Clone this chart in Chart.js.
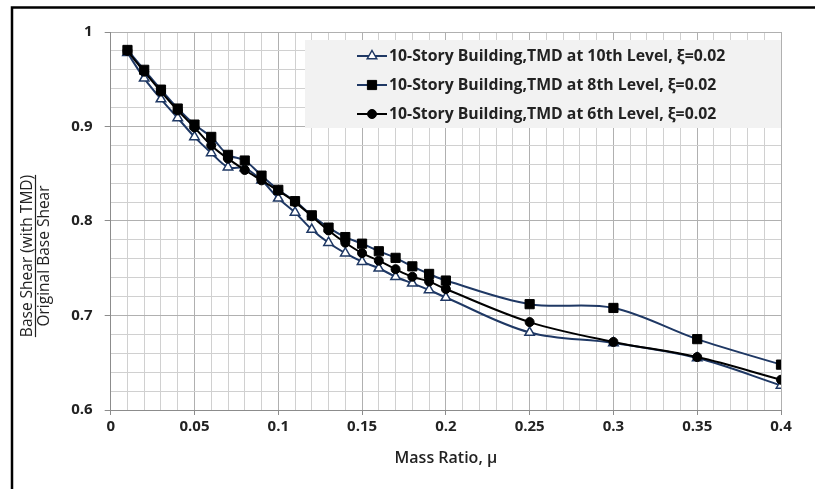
<!DOCTYPE html>
<html>
<head>
<meta charset="utf-8">
<script src="https://cdn.jsdelivr.net/npm/chart.js@4.4.1/dist/chart.umd.min.js"></script>
<style>
  html, body { margin: 0; padding: 0; background: #ffffff; }
  #wrap { width: 815px; height: 489px; }
</style>
</head>
<body>
<div id="wrap"><canvas id="c" width="815" height="489"></canvas></div>
<script>
// ---- data ----
const massRatio = [0.01, 0.02, 0.03, 0.04, 0.05, 0.06, 0.07, 0.08, 0.09, 0.10,
                   0.11, 0.12, 0.13, 0.14, 0.15, 0.16, 0.17, 0.18, 0.19, 0.20,
                   0.25, 0.30, 0.35, 0.40];
const tmd10th = [0.978, 0.951, 0.929, 0.909, 0.889, 0.872, 0.857, 0.856, 0.843, 0.824,
                 0.809, 0.791, 0.777, 0.766, 0.757, 0.750, 0.741, 0.734, 0.727, 0.719,
                 0.682, 0.671, 0.655, 0.626];
const tmd8th  = [0.981, 0.960, 0.939, 0.919, 0.902, 0.889, 0.870, 0.864, 0.848, 0.833,
                 0.821, 0.806, 0.793, 0.783, 0.776, 0.768, 0.761, 0.752, 0.744, 0.737,
                 0.712, 0.708, 0.675, 0.648];
const tmd6th  = [0.980, 0.958, 0.937, 0.917, 0.899, 0.880, 0.866, 0.854, 0.843, 0.832,
                 0.820, 0.805, 0.790, 0.777, 0.766, 0.758, 0.749, 0.741, 0.736, 0.728,
                 0.693, 0.672, 0.656, 0.632];
const seriesNames = [
  "10-Story Building,TMD at 10th Level, \u03BE=0.02",
  "10-Story Building,TMD at 8th Level, \u03BE=0.02",
  "10-Story Building,TMD at 6th Level, \u03BE=0.02"
];
const xTitle = "Mass Ratio, \u03BC";
const yTitleTop = "Base Shear (with TMD)";
const yTitleBottom = "Original Base Shear";
const xRange = [0, 0.4];
const yRange = [0.6, 1.0];

const NAVY = "#1f3864";
const FONT = "'Open Sans', 'Liberation Sans', sans-serif";
const TXT = "#222222";

function pts(ys) { return massRatio.map((x, i) => ({ x: x, y: ys[i] })); }

const styles = [
  { color: NAVY, style: "triangle", bg: "#ffffff", border: NAVY, r: 5.5, bw: 1.5 },
  { color: NAVY, style: "rect", bg: "#000000", border: "#000000", r: 6.5, bw: 1 },
  { color: "#000000", style: "circle", bg: "#000000", border: "#000000", r: 4.5, bw: 1 }
];

function marker(ctx, s, x, y) {
  ctx.fillStyle = s.bg;
  ctx.strokeStyle = s.border;
  ctx.lineWidth = s.bw;
  ctx.beginPath();
  if (s.style === "triangle") {
    const r = s.r;
    ctx.moveTo(x, y - r);
    ctx.lineTo(x + r * 0.866, y + r * 0.5);
    ctx.lineTo(x - r * 0.866, y + r * 0.5);
    ctx.closePath();
  } else if (s.style === "rect") {
    const h = s.r * Math.SQRT1_2;
    ctx.rect(x - h, y - h, 2 * h, 2 * h);
  } else {
    ctx.arc(x, y, s.r, 0, Math.PI * 2);
  }
  ctx.fill();
  ctx.stroke();
}

const framePlugin = {
  id: "frame",
  beforeDraw(chart) {
    const ctx = chart.ctx;
    ctx.save();
    ctx.fillStyle = "#ffffff";
    ctx.fillRect(0, 0, chart.width, chart.height);
    ctx.strokeStyle = "#000000";
    ctx.lineWidth = 2.5;
    ctx.beginPath();
    ctx.moveTo(12, 489);
    ctx.lineTo(12, 7.5);
    ctx.lineTo(815, 7.5);
    ctx.stroke();
    ctx.restore();
  },
  afterDraw(chart) {
    const ctx = chart.ctx;
    const area = chart.chartArea;

    // x-axis title
    ctx.save();
    ctx.font = "600 16px " + FONT;
    ctx.fillStyle = TXT;
    ctx.textAlign = "center";
    ctx.textBaseline = "middle";
    ctx.fillText(xTitle, (area.left + area.right) / 2, 458);
    ctx.restore();

    // y-axis title (fraction)
    ctx.save();
    ctx.translate(35, 256);
    ctx.rotate(-Math.PI / 2);
    ctx.font = "15.5px " + FONT;
    ctx.fillStyle = TXT;
    ctx.textAlign = "center";
    ctx.textBaseline = "alphabetic";
    ctx.fillText(yTitleTop, 0, -3);
    const w = ctx.measureText(yTitleTop).width;
    ctx.strokeStyle = TXT;
    ctx.lineWidth = 1.2;
    ctx.beginPath();
    ctx.moveTo(-w / 2, 0.5);
    ctx.lineTo(w / 2, 0.5);
    ctx.stroke();
    ctx.textBaseline = "top";
    ctx.fillText(yTitleBottom, 0, 1.5);
    ctx.restore();

    // legend box
    ctx.save();
    const lx = 305, ly = 40, lw = area.right - 305, lh = 88;
    ctx.fillStyle = "#f2f2f2";
    ctx.fillRect(lx, ly, lw, lh);
    const rows = [56, 85, 114];
    ctx.font = "bold 15.8px " + FONT;
    ctx.textBaseline = "middle";
    ctx.textAlign = "left";
    rows.forEach((ry, i) => {
      const s = styles[i];
      ctx.strokeStyle = s.color;
      ctx.lineWidth = 2;
      ctx.beginPath();
      ctx.moveTo(357, ry);
      ctx.lineTo(387, ry);
      ctx.stroke();
      marker(ctx, s, 372, ry);
      ctx.fillStyle = TXT;
      ctx.fillText(seriesNames[i], 389, ry + 0.5);
    });
    ctx.restore();
  }
};

const datasets = [tmd10th, tmd8th, tmd6th].map((ys, i) => ({
  label: seriesNames[i],
  data: pts(ys),
  borderColor: styles[i].color,
  borderWidth: 2,
  backgroundColor: styles[i].bg,
  pointStyle: styles[i].style,
  pointRadius: styles[i].r,
  pointBackgroundColor: styles[i].bg,
  pointBorderColor: styles[i].border,
  pointBorderWidth: styles[i].bw,
  tension: 0.35,
  fill: false,
  order: 3 - i
}));

const isMajorX = v => Math.round(v * 100) % 5 === 0;
const isMajorY = v => Math.round(v * 100) % 10 === 0;

new Chart(document.getElementById("c"), {
  type: "scatter",
  data: { datasets: datasets },
  plugins: [framePlugin],
  options: {
    responsive: false,
    animation: false,
    devicePixelRatio: 1,
    showLine: true,
    layout: { padding: { left: 14, right: 34, top: 32, bottom: 0 } },
    plugins: { legend: { display: false }, tooltip: { enabled: false } },
    scales: {
      x: {
        type: "linear",
        min: xRange[0], max: xRange[1],
        afterFit(scale) { scale.height = 79; },
        border: { color: "#8c8c8c", width: 1 },
        grid: {
          color: ctx => isMajorX(ctx.tick.value) ? "#b0b0b0" : "#d0d0d0",
          tickColor: ctx => isMajorX(ctx.tick.value) ? "#8c8c8c" : "rgba(0,0,0,0)",
          tickLength: 5,
          lineWidth: 1
        },
        ticks: {
          stepSize: 0.01,
          autoSkip: false,
          maxRotation: 0,
          padding: 3,
          color: TXT,
          font: { family: FONT, size: 15, weight: "bold" },
          callback: v => isMajorX(v) ? String(Math.round(v * 100) / 100) : ""
        }
      },
      y: {
        type: "linear",
        min: yRange[0], max: yRange[1],
        afterFit(scale) { scale.width = 110.7 - 14; },
        border: { color: "#8c8c8c", width: 1 },
        grid: {
          color: ctx => isMajorY(ctx.tick.value) ? "#b0b0b0" : "#d0d0d0",
          tickColor: ctx => isMajorY(ctx.tick.value) ? "#8c8c8c" : "rgba(0,0,0,0)",
          tickLength: 6,
          lineWidth: 1
        },
        ticks: {
          stepSize: 0.02,
          autoSkip: false,
          padding: 12,
          color: TXT,
          font: { family: FONT, size: 15, weight: "bold" },
          callback: v => isMajorY(v) ? String(Math.round(v * 10) / 10) : ""
        }
      }
    }
  }
});
</script>
</body>
</html>
